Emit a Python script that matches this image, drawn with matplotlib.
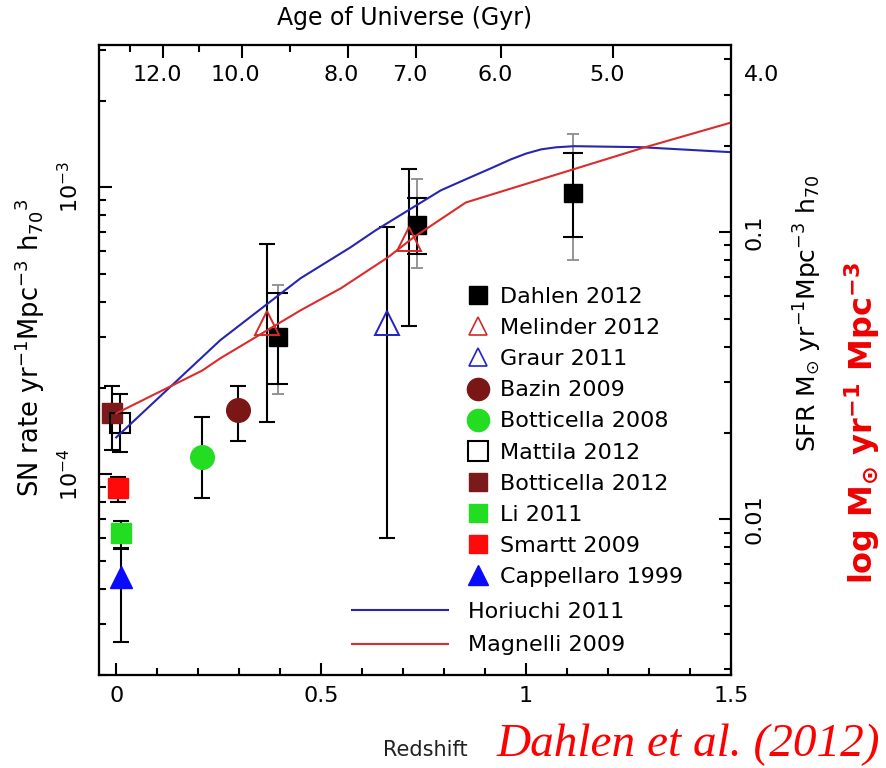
import matplotlib
matplotlib.use('Agg')
import matplotlib.pyplot as plt
import numpy as np
from matplotlib.lines import Line2D
from matplotlib.ticker import LogLocator, MultipleLocator, NullFormatter

plt.rcParams['font.family'] = ['DejaVu Sans']
plt.rcParams['mathtext.default'] = 'regular'

# --- SN Ia rates (yr^-1 Mpc^-3 h70^3) ---
dahlen_z = [0.394, 0.733, 1.115]
dahlen_rate = [3.0e-4, 7.38e-4, 9.53e-4]
dahlen_stat_lo = [2.06e-4, 5.84e-4, 6.7e-4]
dahlen_stat_hi = [4.27e-4, 9.16e-4, 1.32e-3]
dahlen_sys_lo = [1.91e-4, 5.22e-4, 5.57e-4]
dahlen_sys_hi = [4.56e-4, 1.07e-3, 1.53e-3]

melinder_z = [0.369, 0.714]
melinder_rate = [3.36e-4, 6.59e-4]
melinder_lo = [1.52e-4, 3.28e-4]
melinder_hi = [6.33e-4, 1.16e-3]

graur_z = [0.66]
graur_rate = [3.36e-4]
graur_lo = [6.0e-5]
graur_hi = [7.26e-4]

bazin_z = [0.298]
bazin_rate = [1.67e-4]
bazin_lo = [1.31e-4]
bazin_hi = [2.03e-4]

bott08_z = [0.21]
bott08_rate = [1.15e-4]
bott08_lo = [8.24e-5]
bott08_hi = [1.58e-4]

bott12_z = [-0.01]
bott12_rate = [1.63e-4]
bott12_lo = [1.22e-4]
bott12_hi = [2.03e-4]

mattila_z = [0.01]
mattila_rate = [1.51e-4]
mattila_lo = [1.20e-4]
mattila_hi = [1.90e-4]

smartt_z = [0.005]
smartt_rate = [8.93e-5]
smartt_lo = [7.98e-5]
smartt_hi = [9.77e-5]

li_z = [0.012]
li_rate = [6.23e-5]
li_lo = [5.52e-5]
li_hi = [6.86e-5]

capp_z = [0.012]
capp_rate = [4.38e-5]
capp_lo = [2.60e-5]
capp_hi = [5.5e-5]

# --- star formation history curves (M_sun yr^-1 Mpc^-3 h70) ---
horiuchi_z = [0.0, 0.254, 0.450, 0.572, 0.633, 0.792, 0.853, 0.914, 0.963, 1.000,
              1.037, 1.073, 1.117, 1.281, 1.504]
horiuchi_sfr = [0.0193, 0.0421, 0.0692, 0.0887, 0.1016, 0.140, 0.153, 0.167, 0.1795, 0.188,
                0.1945, 0.1977, 0.1995, 0.1979, 0.190]
magnelli_z = [0.0, 0.210, 0.254, 0.450, 0.548, 0.663, 0.726, 0.853, 1.281, 1.504]
magnelli_sfr = [0.0234, 0.0330, 0.0364, 0.0535, 0.0638, 0.0818, 0.0961, 0.127, 0.196, 0.242]

# age of universe axis (Gyr) and matching redshift
age_major = ['12.0', '10.0', '8.0', '7.0', '6.0', '5.0']
age_major_z = [0.115, 0.306, 0.565, 0.731, 0.939, 1.213]
age_minor_z = [0.034, 0.203, 0.423]
age_outside = '4.0'
age_outside_z = 1.575

sfr_per_rate = 143.5   # right axis scale relative to left axis
ylim_rate = (2.0e-5, 3.13e-3)

W, H = 886, 768
fig = plt.figure(figsize=(W / 100, H / 100), dpi=100)
ax = fig.add_axes([99 / W, 1 - 675 / H, (731 - 99) / W, (675 - 45) / H])
ax2 = ax.twinx()
ax3 = ax.twiny()


def pts(lst_rate, lo, hi):
    r = np.array(lst_rate)
    return [r - np.array(lo), np.array(hi) - r]


# Dahlen: systematic (grey) + statistical (black)
ax.errorbar(dahlen_z, dahlen_rate, yerr=pts(dahlen_rate, dahlen_sys_lo, dahlen_sys_hi),
            fmt='none', ecolor='#8c8c8c', elinewidth=1.3, capsize=4.5, capthick=1.3, zorder=2)
ax.errorbar(dahlen_z, dahlen_rate, yerr=pts(dahlen_rate, dahlen_stat_lo, dahlen_stat_hi),
            fmt='none', ecolor='k', elinewidth=1.5, capsize=7.5, capthick=1.5, zorder=3)
ax.plot(dahlen_z, dahlen_rate, 's', color='k', ms=13, zorder=5)

ebkw = dict(fmt='none', ecolor='k', elinewidth=1.5, capsize=6, capthick=1.5, zorder=3)
ax.errorbar(melinder_z, melinder_rate, yerr=pts(melinder_rate, melinder_lo, melinder_hi), **ebkw)
ax.errorbar(graur_z, graur_rate, yerr=pts(graur_rate, graur_lo, graur_hi), **ebkw)
ax.errorbar(bazin_z, bazin_rate, yerr=pts(bazin_rate, bazin_lo, bazin_hi), **ebkw)
ax.errorbar(bott08_z, bott08_rate, yerr=pts(bott08_rate, bott08_lo, bott08_hi), **ebkw)
ax.errorbar(bott12_z, bott12_rate, yerr=pts(bott12_rate, bott12_lo, bott12_hi), **ebkw)
ax.errorbar(mattila_z, mattila_rate, yerr=pts(mattila_rate, mattila_lo, mattila_hi), **ebkw)
ax.errorbar(smartt_z, smartt_rate, yerr=pts(smartt_rate, smartt_lo, smartt_hi), **ebkw)
ax.errorbar(li_z, li_rate, yerr=pts(li_rate, li_lo, li_hi), **ebkw)
ax.errorbar(capp_z, capp_rate, yerr=pts(capp_rate, capp_lo, capp_hi), **ebkw)

ax.plot(melinder_z, melinder_rate, '^', mfc='none', mec='#d42a2a', mew=1.4, ms=17, zorder=6)
ax.plot(graur_z, graur_rate, '^', mfc='none', mec='#2323c8', mew=1.4, ms=17, zorder=6)
ax.plot(bazin_z, bazin_rate, 'o', color='#7b1616', ms=17, zorder=5)
ax.plot(bott08_z, bott08_rate, 'o', color='#22dd22', ms=17, zorder=5)
ax.plot(bott12_z, bott12_rate, 's', color='#7b1a1a', ms=14, zorder=5)
ax.plot(mattila_z, mattila_rate, 's', mfc='none', mec='k', mew=1.5, ms=14, zorder=6)
ax.plot(smartt_z, smartt_rate, 's', color='#ff0a0a', ms=14, zorder=5)
ax.plot(li_z, li_rate, 's', color='#22dd22', ms=14, zorder=5)
ax.plot(capp_z, capp_rate, '^', color='#0a0aff', ms=16, zorder=5)

# SFR curves on the right axis
ax2.plot(horiuchi_z, horiuchi_sfr, color='#2626b0', lw=1.5)
ax2.plot(magnelli_z, magnelli_sfr, color='#dd2a2a', lw=1.5)

# axes limits and ticks
ax.set_xlim(-0.042, 1.5)
ax.set_yscale('log')
ax.set_ylim(*ylim_rate)
ax2.set_yscale('log')
ax2.set_ylim(ylim_rate[0] * sfr_per_rate, ylim_rate[1] * sfr_per_rate)
ax3.set_xlim(ax.get_xlim())

ax.set_xticks([0, 0.5, 1, 1.5])
ax.set_xticklabels(['0', '0.5', '1', '1.5'])
ax.xaxis.set_minor_locator(MultipleLocator(0.1))
ax.set_yticks([1e-4, 1e-3])
ax.set_yticklabels([r'10$^{-4}$', r'10$^{-3}$'], rotation=90, va='center')
ax.yaxis.set_minor_locator(LogLocator(base=10, subs=np.arange(2, 10)))
ax.yaxis.set_minor_formatter(NullFormatter())

ax2.set_yticks([0.01, 0.1])
ax2.set_yticklabels(['0.01', '0.1'], rotation=90, va='center')
ax2.yaxis.set_minor_locator(LogLocator(base=10, subs=np.arange(2, 10)))
ax2.yaxis.set_minor_formatter(NullFormatter())

ax3.set_xticks(age_major_z)
ax3.set_xticks(age_minor_z, minor=True)
ax3.set_xticklabels([])

ax.tick_params(which='both', direction='in', top=False, right=False, width=1.5, labelsize=16)
ax.tick_params(which='major', length=9)
ax.tick_params(which='minor', length=5)
ax.tick_params(axis='x', pad=8)
ax.tick_params(axis='y', pad=12)
ax2.tick_params(which='both', direction='in', left=False, right=True, width=1.5, labelsize=16, pad=10)
ax2.tick_params(which='major', length=9)
ax2.tick_params(which='minor', length=5)
ax3.tick_params(which='both', direction='in', bottom=False, top=True, width=1.5)
ax3.tick_params(which='major', length=9)
ax3.tick_params(which='minor', length=5)
for a in (ax, ax2, ax3):
    for s in a.spines.values():
        s.set_linewidth(1.5)

trans = ax.get_xaxis_transform()
for lab, z in zip(age_major, age_major_z):
    ax.text(z - 0.015, 0.952, lab, transform=trans, ha='center', va='center', fontsize=16)
ax.text(age_outside_z, 0.952, age_outside, transform=trans, ha='center', va='center', fontsize=16)

# legends
mk_handles = [
    Line2D([], [], ls='none', marker='s', color='k', ms=13),
    Line2D([], [], ls='none', marker='^', mfc='none', mec='#d42a2a', mew=1.2, ms=13),
    Line2D([], [], ls='none', marker='^', mfc='none', mec='#2323c8', mew=1.2, ms=13),
    Line2D([], [], ls='none', marker='o', color='#7b1616', ms=16),
    Line2D([], [], ls='none', marker='o', color='#22dd22', ms=16),
    Line2D([], [], ls='none', marker='s', mfc='none', mec='k', mew=1.5, ms=15),
    Line2D([], [], ls='none', marker='s', color='#7b1a1a', ms=13),
    Line2D([], [], ls='none', marker='s', color='#22dd22', ms=13),
    Line2D([], [], ls='none', marker='s', color='#ff0a0a', ms=13),
    Line2D([], [], ls='none', marker='^', color='#0a0aff', ms=14),
]
mk_labels = ['Dahlen 2012', 'Melinder 2012', 'Graur 2011', 'Bazin 2009', 'Botticella 2008',
             'Mattila 2012', 'Botticella 2012', 'Li 2011', 'Smartt 2009', 'Cappellaro 1999']
leg1 = ax3.legend(mk_handles, mk_labels, loc='upper left', frameon=False, fontsize=16,
                  bbox_to_anchor=(467 / W, 1 - 287 / H), bbox_transform=fig.transFigure,
                  borderpad=0, borderaxespad=0, handlelength=1.0, handletextpad=0.5,
                  labelspacing=0.5)
ax3.add_artist(leg1)
ln_handles = [Line2D([], [], color='#2626b0', lw=1.5), Line2D([], [], color='#dd2a2a', lw=1.5)]
ax3.legend(ln_handles, ['Horiuchi 2011', 'Magnelli 2009'], loc='upper left', frameon=False,
           fontsize=16, bbox_to_anchor=(352 / W, 1 - 602 / H), bbox_transform=fig.transFigure,
           borderpad=0, borderaxespad=0, handlelength=4.3, handletextpad=0.9, labelspacing=0.6)

# labels
fig.text(405 / W, 1 - 18 / H, 'Age of Universe (Gyr)', ha='center', va='center', fontsize=17)
fig.text(425 / W, 1 - 750 / H, 'Redshift', ha='center', va='center', fontsize=15, color='#222222')
fig.text(30 / W, 1 - 348 / H, r'SN rate yr$^{-1}$Mpc$^{-3}$ h$_{70}$$^{3}$', rotation=90,
         ha='center', va='center', fontsize=18.5)
fig.text(808 / W, 1 - 313 / H, r'SFR M$_{\odot}$ yr$^{-1}$Mpc$^{-3}$ h$_{70}$', rotation=90,
         ha='center', va='center', fontsize=18)
fig.text(862 / W, 1 - 423 / H, r'log M$_{\odot}$ yr$^{-1}$ Mpc$^{-3}$', rotation=90,
         ha='center', va='center', fontsize=23, color='#ee0000', fontweight='bold')
fig.text(880 / W, 1 - 756 / H, 'Dahlen et al. (2012)', ha='right', va='baseline',
         fontsize=34, color='#ff0000', style='italic', family='Liberation Serif')

fig.savefig('out.png', dpi=100)
